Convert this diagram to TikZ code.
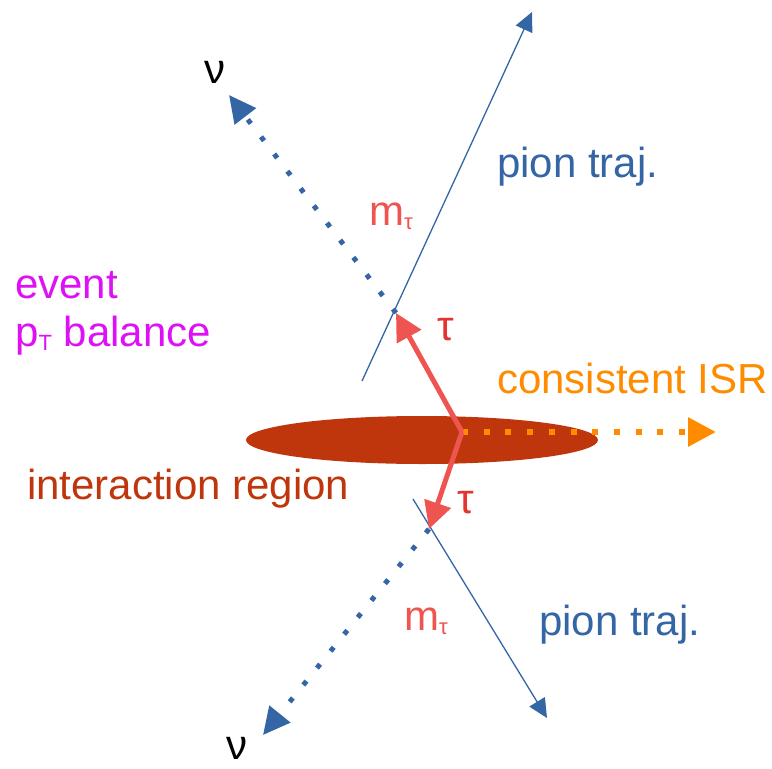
\documentclass[tikz,border=0pt]{standalone}
\usepackage{fontspec}
\setmainfont{Liberation Sans}
\usepackage{xcolor}
\usepackage{tikz}
\usetikzlibrary{arrows.meta, shapes.geometric}
\definecolor{pionBlue}{HTML}{3465A4}
\definecolor{tauRed}{HTML}{EE5550}
\definecolor{tauLabel}{HTML}{E3342F}
\definecolor{regionRed}{HTML}{BF360C}
\definecolor{isrOrange}{HTML}{FF8C00}
\definecolor{ptMagenta}{HTML}{DE10F5}
\newcommand{\lowsub}[1]{\raisebox{-4.5pt}{\fontsize{22}{22}\selectfont #1}}

\begin{document}
\begin{tikzpicture}[x=1pt, y=-1pt,
    lbl/.style={font=\fontsize{42}{48}\selectfont, anchor=base west, inner sep=0pt},
    nudots/.style={pionBlue, line width=5pt, dash pattern=on 5pt off 16.7pt,
        -{Triangle[length=27pt, width=26pt]}},
    piontrk/.style={pionBlue, line width=1.3pt, -{Triangle[length=19pt, width=18pt]}},
    tauarr/.style={tauRed, line width=5pt, -{Triangle[length=27pt, width=27pt]}}]
    \useasboundingbox (0,0) rectangle (772,769);

    \node (region) [ellipse, fill=regionRed, inner sep=0pt,
        minimum width=352pt, minimum height=48pt] at (422,440) {};

    \coordinate (vtx) at (462,432);
    \coordinate (tauup) at (396,313);
    \coordinate (taudn) at (429,529);
    \coordinate (nuup) at (229,95);
    \coordinate (nudn) at (263,735);
    \coordinate (pionupA) at (362,381);
    \coordinate (pionupB) at (532,12);
    \coordinate (piondnA) at (413,499);
    \coordinate (piondnB) at (547,718);
    \coordinate (isr) at (716,432);

    % ISR direction
    \draw[isrOrange, line width=6pt, dash pattern=on 6pt off 15.7pt,
        -{Triangle[length=28pt, width=28pt]}] (vtx) -- (isr);

    % pion tracks
    \draw[piontrk] (pionupA) -- (pionupB);
    \draw[piontrk] (piondnA) -- (piondnB);

    % neutrinos
    \draw[nudots] (tauup) -- (nuup);
    \draw[nudots] (taudn) -- (nudn);

    % taus
    \draw[tauarr] (vtx) -- (tauup);
    \draw[tauarr] (vtx) -- (taudn);

    \node (nuuplbl) [lbl, anchor=base] at (215,83) {ν};
    \node (nudnlbl) [lbl, anchor=base] at (237,759) {ν};
    \node (pionuplbl) [lbl, pionBlue] at (497,177) {pion traj.};
    \node (piondnlbl) [lbl, pionBlue] at (539,635) {pion traj.};
    \node (mtauup) [lbl, tauRed] at (369,225) {m\lowsub{τ}};
    \node (mtaudn) [lbl, tauRed] at (404,630) {m\lowsub{τ}};
    \node (tauuplbl) [lbl, tauLabel] at (437,340) {τ};
    \node (taudnlbl) [lbl, tauLabel] at (457,513) {τ};
    \node (isrlbl) [lbl, isrOrange] at (497,393) {consistent ISR};
    \node (evlbl) [lbl, ptMagenta] at (15,298) {event};
    \node (ptlbl) [lbl, ptMagenta] at (15,346) {p\lowsub{T} balance};
    \node (regionlbl) [lbl, regionRed] at (27,499) {interaction region};
\end{tikzpicture}
\end{document}
